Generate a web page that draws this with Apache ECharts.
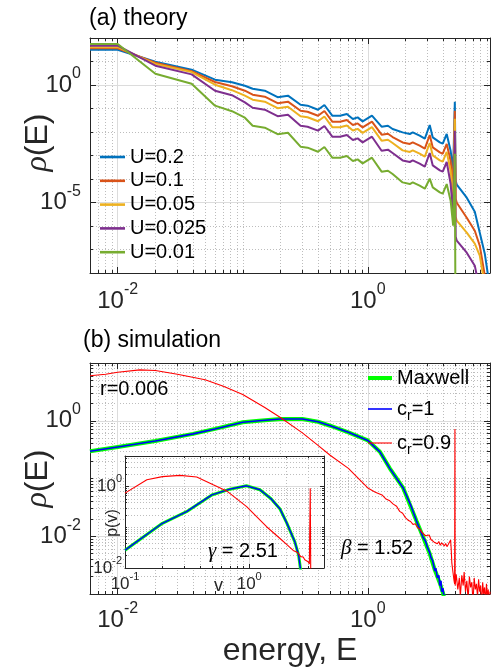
<!DOCTYPE html>
<html>
<head>
<meta charset="utf-8">
<title>energy distribution</title>
<script src="https://cdn.jsdelivr.net/npm/echarts@6/dist/echarts.min.js"></script>
<style>
  html, body { margin: 0; padding: 0; background: #fff; }
  #chart { width: 493px; height: 668px; }
</style>
</head>
<body>
<div id="chart"></div>
<script>
// ---------- (a) theory : rho(E) for several U ----------
var E_theory = [0.006, 0.01, 0.02, 0.039, 0.06, 0.082, 0.104, 0.12, 0.15, 0.19,
  0.23, 0.29, 0.33, 0.4, 0.45, 0.52, 0.6, 0.68, 0.76, 0.83,
  0.91, 1.08, 1.29, 1.45, 1.58, 1.9, 2.17, 2.29, 2.6, 2.86,
  3.13, 3.31, 3.77, 3.98, 4.28, 4.6, 4.82, 4.97, 5.05, 5.15,
  6.19, 7.18, 7.87, 8.63, 9.12, 9.64];
var rho_U020 = [31.8, 31.8, 9.8, 4.48, 1.68, 1.32, 0.934, 0.696, 0.572, 0.303,
  0.351, 0.145, 0.132, 0.0889, 0.141, 0.0494, 0.0494, 0.0583, 0.0357, 0.0418,
  0.0283, 0.0494, 0.0168, 0.0185, 0.0134, 0.00962, 0.00822, 0.00962, 0.00696, 0.00519,
  0.0199, 0.00589, 0.00361, 0.00318, 0.00822, 0.0016, 2.25e-4, 0.195, 8.47e-5, 5.72e-5,
  1.6e-5, 4.06e-6, 5.19e-7, 6.62e-8, 9.3e-9, 6.6e-10];
var rho_U010 = [36.8, 36.8, 8.89, 3.87, 1.34, 0.889, 0.572, 0.387, 0.318, 0.168,
  0.195, 0.0806, 0.0731, 0.0494, 0.0783, 0.0274, 0.0274, 0.0324, 0.0199, 0.0232,
  0.0157, 0.0274, 0.00767, 0.00847, 0.00612, 0.00361, 0.00309, 0.00361, 0.00261, 0.00195,
  0.00745, 0.00221, 0.00135, 0.00119, 0.00309, 6e-4, 5.19e-5, 0.0806, 1.45e-5, 9.8e-6,
  2.25e-6, 6.3e-7, 1.45e-7, 7.7e-9, 6.6e-10, 1e-10];
var rho_U005 = [40.6, 40.6, 7.83, 3.54, 1.03, 0.601, 0.351, 0.237, 0.195, 0.103,
  0.119, 0.047, 0.0426, 0.0288, 0.0457, 0.016, 0.016, 0.0189, 0.0116, 0.0136,
  0.00916, 0.016, 0.00427, 0.0047, 0.0034, 0.00165, 0.00141, 0.00165, 0.00119, 8.9e-4,
  0.0034, 0.00101, 6.18e-4, 5.45e-4, 0.00141, 2.25e-4, 1.19e-5, 0.0368, 2.49e-6, 1.68e-6,
  5.19e-7, 1.77e-7, 5.45e-8, 2.9e-9, 1e-10, 1e-11];
var rho_U0025 = [47, 47, 6.63, 2.83, 0.572, 0.368, 0.182, 0.108, 0.0889, 0.047,
  0.0545, 0.0185, 0.0168, 0.0114, 0.018, 0.0063, 0.0063, 0.00745, 0.00457, 0.00534,
  0.00361, 0.0063, 0.0016, 0.00177, 0.00128, 6.18e-4, 5.29e-4, 6.18e-4, 4.48e-4, 3.34e-4,
  0.00128, 3.79e-4, 2.32e-4, 2.05e-4, 5.29e-4, 6.3e-5, 2.74e-6, 0.0114, 3.5e-7, 2.37e-7,
  7.3e-8, 2.05e-8, 1.8e-9, 1e-10, 1e-11, 1e-12];
var rho_U001 = [55.6, 55.6, 3.03, 1.14, 0.132, 0.0767, 0.0406, 0.0185, 0.0152, 0.00806,
  0.00933, 0.00237, 0.00215, 0.00145, 0.0023, 8.05e-4, 8.05e-4, 9.5e-4, 5.83e-4, 6.83e-4,
  4.61e-4, 8.05e-4, 2.05e-4, 2.25e-4, 1.63e-4, 7.17e-5, 6.12e-5, 7.17e-5, 5.19e-5, 3.87e-5,
  1.03e-4, 4.39e-5, 2.69e-5, 2.37e-5, 6.12e-5, 1.19e-5, 1.03e-6, 0.00119, 1e-12, 1e-12,
  1e-12, 1e-12, 1e-12, 1e-12, 1e-12, 1e-12];
var theoryNames = ['U=0.2', 'U=0.1', 'U=0.05', 'U=0.025', 'U=0.01'];
var theoryColors = ['#0072BD', '#D95319', '#EDB120', '#7E2F8E', '#77AC30'];

// ---------- (b) simulation ----------
var E_maxwell = [0.006, 0.01, 0.02, 0.04, 0.06, 0.1, 0.135, 0.2, 0.3, 0.4,
  0.5, 0.7, 1, 1.25, 1.5, 1.92, 2.45, 2.77, 3.13, 3.44, 3.77, 4.0, 4.3];
var rho_maxwell = [0.296, 0.352, 0.446, 0.593, 0.722, 0.94, 1.0, 1.07, 1.07, 0.96,
  0.82, 0.63, 0.457, 0.29, 0.15, 0.0686, 0.0186, 0.0097, 0.005, 0.0026, 0.00155, 0.00104, 0.0005];

var E_cr1 = [0.006, 0.01, 0.02, 0.04, 0.06, 0.1, 0.135, 0.2, 0.3, 0.4,
  0.5, 0.7, 1, 1.25, 1.5, 1.92, 2.2, 2.45, 2.6, 2.77,
  2.9, 3.0, 3.13, 3.2, 3.3, 3.44, 3.5, 3.6, 3.7, 3.77,
  3.85, 3.9, 4.0, 4.05, 4.1, 4.2];
var rho_cr1 = [0.296, 0.352, 0.446, 0.593, 0.722, 0.94, 1.0, 1.07, 1.07, 0.96,
  0.82, 0.63, 0.457, 0.29, 0.15, 0.0686, 0.035, 0.0186, 0.0135, 0.0095,
  0.0082, 0.0064, 0.0052, 0.0043, 0.0038, 0.0025, 0.0028, 0.0019, 0.0021, 0.0014,
  0.0017, 0.0011, 0.00125, 0.0009, 0.001, 0.0006];

var E_cr09 = [0.006, 0.008, 0.01, 0.015, 0.02, 0.03, 0.05, 0.07, 0.1, 0.15,
  0.2, 0.3, 0.4, 0.5, 0.7, 1, 1.15, 1.3, 1.4, 1.5,
  1.6, 1.7, 1.8, 1.9, 2, 2.1, 2.2, 2.3, 2.4, 2.5,
  2.6, 2.7, 2.8, 2.9, 3, 3.1, 3.2, 3.3, 3.4, 3.5,
  3.6, 3.7, 3.8, 3.9, 4, 4.1, 4.2, 4.3, 4.4, 4.5,
  4.6, 4.65, 4.7, 4.8, 4.9, 4.95, 4.98, 5.0, 5.1, 5.25,
  5.4, 5.5, 5.65, 5.8, 5.9, 6.05, 6.2, 6.35, 6.5, 6.65,
  6.8, 6.95, 7.1, 7.25, 7.4, 7.55, 7.7, 7.85, 8.0, 8.15,
  8.3, 8.45, 8.6, 8.75, 8.9, 9.05, 9.2, 9.35, 9.5];
var rho_cr09 = [6.0, 6.4, 6.9, 7.6, 7.4, 6.4, 5.13, 3.95, 2.85, 1.69,
  1.14, 0.617, 0.375, 0.253, 0.15, 0.0686, 0.058, 0.052, 0.044, 0.041,
  0.036, 0.033, 0.027, 0.025, 0.021, 0.019, 0.018, 0.016, 0.0165, 0.014,
  0.0135, 0.0118, 0.0124, 0.0102, 0.0098, 0.0105, 0.0088, 0.0092, 0.0079, 0.0085,
  0.0074, 0.0081, 0.007, 0.0077, 0.0072, 0.0068, 0.0075, 0.0066, 0.0072, 0.0069,
  0.0086, 0.006, 0.0035, 0.0024, 0.0017, 0.0015, 0.72, 0.0014, 0.0022, 0.0012,
  0.0019, 0.0009, 0.0021, 0.0014, 0.0024, 0.0011, 0.0017, 0.0008, 0.002, 0.0013,
  0.0016, 0.0007, 0.0019, 0.0012, 0.0015, 0.0009, 0.0018, 0.0011, 0.0014, 0.0006,
  0.0016, 0.001, 0.0013, 0.0007, 0.0015, 0.0009, 0.0012, 0.0006, 0.0011];

// inset: speed distribution p(v)
var v_cr1 = [0.1, 0.2, 0.313, 0.5, 0.7, 0.95, 1.22, 1.5, 1.77, 2.0, 2.33, 2.5, 2.58, 2.65];
var p_cr1 = [0.0274, 0.125, 0.241, 0.62, 0.86, 1.04, 0.83, 0.5, 0.28, 0.13, 0.0439, 0.0205, 0.01, 0.005];
var v_cr09 = [0.1, 0.15, 0.2, 0.277, 0.378, 0.513, 0.658, 0.953, 1.38, 1.77,
  2.0, 2.26, 2.45, 2.6, 2.72, 2.8, 2.9, 2.98, 3.05, 3.08, 3.1, 3.13];
var p_cr09 = [0.687, 1.46, 1.75, 1.87, 1.71, 1.1, 0.78, 0.32, 0.103, 0.053,
  0.038, 0.027, 0.024, 0.019, 0.0186, 0.016, 0.0175, 0.0142, 0.0125, 0.012, 0.91, 0.005];

// ---------- ticks ----------
var xMajor = [0.01, 1];
var xMinor = [0.007, 0.008, 0.009, 0.02, 0.03, 0.04, 0.05, 0.06, 0.07, 0.08, 0.09,
  0.1, 0.2, 0.3, 0.4, 0.5, 0.6, 0.7, 0.8, 0.9, 2, 3, 4, 5, 6, 7, 8, 9];
var yMajorA = [1e-5, 1];
var yMinorA = [1e-7, 1e-6, 1e-4, 1e-3, 1e-2, 1e-1, 10];
var yMajorB = [1e-2, 1];
var yMinorB = [0.002, 0.003, 0.004, 0.005, 0.006, 0.007, 0.008, 0.009,
  0.02, 0.03, 0.04, 0.05, 0.06, 0.07, 0.08, 0.09, 0.1,
  0.2, 0.3, 0.4, 0.5, 0.6, 0.7, 0.8, 0.9, 2, 3, 4, 5, 6, 7, 8, 9];
var vMajor = [0.1, 1];
var vMinor = [0.2, 0.3, 0.4, 0.5, 0.6, 0.7, 0.8, 0.9, 2, 3];
var pMajor = [0.01, 1];
var pMinor = [0.02, 0.03, 0.04, 0.05, 0.06, 0.07, 0.08, 0.09, 0.1,
  0.2, 0.3, 0.4, 0.5, 0.6, 0.7, 0.8, 0.9, 2, 3, 4, 5];

var FONT = '"Liberation Sans", Arial, Helvetica, sans-serif';
var SERIF = '"Liberation Serif", "DejaVu Serif", serif';
var AX = '#262626';

function pow10(v) {
  return '{b|10}{s|' + Math.round(Math.log10(v)) + '}';
}
function supRich(big, small, lh) {
  return {
    b: {fontSize: big, lineHeight: lh, fontFamily: FONT, color: AX},
    s: {fontSize: small, lineHeight: small, verticalAlign: 'top', fontFamily: FONT, color: AX}
  };
}

var xAxes = [], yAxes = [];
// four axes per direction: labelled majors + minors, and the opposite side of the box
function addAxes(list, grid, pos, opp, min, max, majors, minors, o) {
  var first = list.length;
  var common = {type: 'log', logBase: 10, gridIndex: grid, min: min, max: max, z: o.z || 0};
  list.push(Object.assign({}, common, {
    position: pos,
    axisLine: {show: true, onZero: false, lineStyle: {color: AX, width: 1}},
    axisTick: {show: true, inside: true, length: o.tick, customValues: majors, lineStyle: {color: AX}},
    axisLabel: {show: true, customValues: majors, formatter: pow10, margin: o.margin, rich: o.rich, color: AX},
    splitLine: {show: true, lineStyle: {color: '#dcdcdc', width: 1}},
    name: o.name || '', nameLocation: 'middle', nameGap: o.nameGap || 0, nameMoveOverlap: false,
    nameRotate: o.nameRotate || 0, nameTextStyle: o.nameStyle || {}
  }));
  list.push(Object.assign({}, common, {
    position: pos,
    axisLine: {show: false},
    axisTick: {show: true, inside: true, length: o.tick / 2, customValues: minors, lineStyle: {color: AX}},
    axisLabel: {show: false},
    splitLine: {show: true, lineStyle: {color: '#bdbdbd', width: 1, type: [1, 2]}}
  }));
  list.push(Object.assign({}, common, {
    position: opp,
    axisLine: {show: true, onZero: false, lineStyle: {color: AX, width: 1}},
    axisTick: {show: true, inside: true, length: o.tick, customValues: majors, lineStyle: {color: AX}},
    axisLabel: {show: false}, splitLine: {show: false}
  }));
  list.push(Object.assign({}, common, {
    position: opp,
    axisLine: {show: false},
    axisTick: {show: true, inside: true, length: o.tick / 2, customValues: minors, lineStyle: {color: AX}},
    axisLabel: {show: false}, splitLine: {show: false}
  }));
  return first;
}

var bigRich = supRich(24, 16, 38);
function rhoName(pad) {
  return {
    padding: pad,
    rich: {
      i: {fontSize: 32, fontFamily: SERIF, fontStyle: 'italic', color: AX},
      n: {fontSize: 32, fontFamily: FONT, color: AX}
    }
  };
}

var xa = addAxes(xAxes, 0, 'bottom', 'top', 0.006, 9.5, xMajor, xMinor, {tick: 6, margin: 9, rich: bigRich});
var ya = addAxes(yAxes, 0, 'left', 'right', 1e-8, 100, yMajorA, yMinorA,
  {tick: 6, margin: 9, rich: bigRich, name: '{i|ρ}{n|(E)}', nameGap: 36, nameRotate: 90,
   nameStyle: rhoName([0, 0, 0, 26])});
var xb = addAxes(xAxes, 1, 'bottom', 'top', 0.006, 9.5, xMajor, xMinor,
  {tick: 6, margin: 7, rich: bigRich, name: 'energy, E', nameGap: 41,
   nameStyle: {fontSize: 32, fontFamily: FONT, color: AX}});
var yb = addAxes(yAxes, 1, 'left', 'right', 1e-3, 10, yMajorB, yMinorB,
  {tick: 6, margin: 9, rich: bigRich, name: '{i|ρ}{n|(E)}', nameGap: 36, nameRotate: 90,
   nameStyle: rhoName([0, 0, 0, 0])});
var smallRich = supRich(17, 11, 26);
var xc = addAxes(xAxes, 2, 'bottom', 'top', 0.1, 4, vMajor, vMinor,
  {tick: 4, margin: 3, rich: smallRich, z: 6, name: 'v', nameGap: 9,
   nameStyle: {fontSize: 18, fontFamily: FONT, color: AX, padding: [0, 12, 0, 0]}});
var yc = addAxes(yAxes, 2, 'left', 'right', 0.01, 5.6, pMajor, pMinor,
  {tick: 4, margin: 3, rich: smallRich, z: 6, name: 'p(v)', nameGap: 4, nameRotate: 90,
   nameStyle: {fontSize: 16, fontFamily: FONT, color: AX, padding: [0, 22, 0, 0]}});

function pairs(xs, ys) {
  return xs.map(function (x, i) { return [x, ys[i]]; });
}
function line(name, xs, ys, xi, yi, color, width, z) {
  return {
    name: name, type: 'line', xAxisIndex: xi, yAxisIndex: yi,
    data: pairs(xs, ys), symbol: 'none', showSymbol: false, clip: true,
    lineStyle: {color: color, width: width}, itemStyle: {color: color},
    z: z || 2, animation: false
  };
}

var series = [];
var theoryData = [rho_U020, rho_U010, rho_U005, rho_U0025, rho_U001];
theoryNames.forEach(function (n, i) {
  series.push(line(n, E_theory, theoryData[i], xa, ya, theoryColors[i], 2));
});
series.push(line('Maxwell', E_maxwell, rho_maxwell, xb, yb, '#00FF00', 4));
series.push(line('c_r=1', E_cr1, rho_cr1, xb, yb, '#0000FF', 1.6));
series.push(line('c_r=0.9', E_cr09, rho_cr09, xb, yb, '#FF0000', 1.1));
series.push(line('Maxwell', v_cr1, p_cr1, xc, yc, '#00FF00', 3, 7));
series.push(line('c_r=1', v_cr1, p_cr1, xc, yc, '#0000FF', 1.4, 7));
series.push(line('c_r=0.9', v_cr09, p_cr09, xc, yc, '#FF0000', 1.1, 7));

function bar(h) { return 'path://M0,0h24v' + h + 'h-24z'; }
var simRich = {
  n: {fontSize: 20, lineHeight: 28, fontFamily: FONT, color: '#000'},
  r: {fontSize: 14, lineHeight: 10, verticalAlign: 'bottom', fontFamily: FONT, color: '#000'}
};
function simLegend(name, icon, top) {
  return {
    data: [{name: name, icon: icon}], left: 368, top: top, padding: 0,
    itemWidth: 24, itemHeight: 14,
    formatter: function (nm) {
      if (nm === 'Maxwell') return '{n|Maxwell}';
      return '{n|c}{r|r}{n|=' + nm.split('=')[1] + '}';
    },
    textStyle: {fontFamily: FONT, color: '#000', rich: simRich}
  };
}

var chart = echarts.init(document.getElementById('chart'), null, {renderer: 'canvas'});
chart.setOption({
  animation: false,
  backgroundColor: '#ffffff',
  title: [
    {text: '(a) theory', left: 89, top: 7, padding: 0,
     textStyle: {fontSize: 23, fontWeight: 'normal', fontFamily: FONT, color: '#000'}},
    {text: '(b) simulation', left: 83, top: 329, padding: 0,
     textStyle: {fontSize: 23, fontWeight: 'normal', fontFamily: FONT, color: '#000'}}
  ],
  grid: [
    {left: 90, top: 38, width: 400, height: 235, show: false},
    {left: 90, top: 363, width: 400, height: 235, show: false},
    {left: 125, top: 456, width: 199, height: 112, show: true, z: 5,
     backgroundColor: '#ffffff', borderWidth: 0}
  ],
  xAxis: xAxes,
  yAxis: yAxes,
  legend: [
    {data: theoryNames.map(function (n) { return {name: n, icon: bar(2.5)}; }),
     orient: 'vertical', left: 100, top: 147, padding: 0,
     itemWidth: 25, itemHeight: 14, itemGap: 3.8,
     textStyle: {fontSize: 20, lineHeight: 20, fontFamily: FONT, color: '#000'}},
    simLegend('Maxwell', bar(4), 368),
    simLegend('c_r=1', bar(1.6), 399),
    simLegend('c_r=0.9', bar(1.1), 433)
  ],
  graphic: [
    {type: 'text', left: 100, top: 379, z: 100,
     style: {text: 'r=0.006', fontSize: 20, fontFamily: FONT, fill: '#000'}},
    {type: 'text', left: 341, top: 538, z: 100,
     style: {text: '{g|β}{n| = 1.52}', fill: '#000',
       rich: {g: {fontSize: 21, fontFamily: SERIF, fontStyle: 'italic'}, n: {fontSize: 20, fontFamily: FONT}}}},
    {type: 'text', left: 208, top: 541, z: 100,
     style: {text: '{g|γ}{n| = 2.51}', fill: '#000',
       rich: {g: {fontSize: 21, fontFamily: SERIF, fontStyle: 'italic'}, n: {fontSize: 20, fontFamily: FONT}}}}
  ],
  series: series
});
</script>
</body>
</html>
